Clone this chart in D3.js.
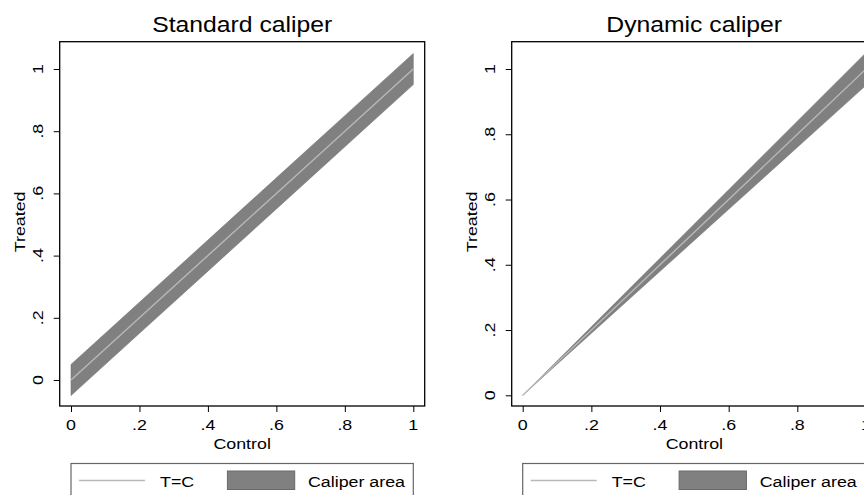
<!doctype html>
<html>
<head>
<meta charset="utf-8">
<title>Caliper areas</title>
<style>
  body { margin: 0; background: #fff; }
  text { font-family: "Liberation Sans", Arial, sans-serif; fill: #000; }
</style>
<script src="https://cdnjs.cloudflare.com/ajax/libs/d3/7.8.5/d3.min.js"></script>
</head>
<body>
<div id="chart"></div>
<script>
// data
const control = [0, 0.2, 0.4, 0.6, 0.8, 1];
const stdUpper = [0.05, 0.25, 0.45, 0.65, 0.85, 1.05];
const stdLower = [-0.05, 0.15, 0.35, 0.55, 0.75, 0.95];
const dynUpper = [0, 0.21, 0.42, 0.63, 0.84, 1.05];
const dynLower = [0, 0.19, 0.38, 0.57, 0.76, 0.95];
const treated = [0, 0.2, 0.4, 0.6, 0.8, 1];
const xTicks = [0, 0.2, 0.4, 0.6, 0.8, 1];
const yTicks = [0, 0.2, 0.4, 0.6, 0.8, 1];
const titles = ["Standard caliper", "Dynamic caliper"];
const legendLabels = ["T=C", "Caliper area"];

const W = 864, H = 495;
const stretch = 1.15; // the picture's font runs wider than Arial
const fmt = d => d === 0 ? "0" : d === 1 ? "1" : d3.format(".1f")(d).replace(/^0/, "");

const svg = d3.select("#chart").append("svg")
  .attr("width", W).attr("height", H);

// panel layout (pixels)
const panels = [
  { title: titles[0], upper: stdUpper, lower: stdLower,
    frame: { x0: 59.7, x1: 424.7, y0: 41.7, y1: 406 },
    xr: [71, 413.3], yr: [380, 69] },
  { title: titles[1], upper: dynUpper, lower: dynLower,
    frame: { x0: 511.7, x1: 876.7, y0: 41.7, y1: 406 },
    xr: [522.7, 866], yr: [395.3, 69] }
];

function label(g, x, y, txt, size, anchor) {
  return g.append("text")
    .attr("transform", `translate(${x},${y}) scale(${stretch},1)`)
    .attr("text-anchor", anchor || "middle")
    .attr("font-size", size)
    .text(txt);
}

// rotated text, stretched along its own direction
function vlabel(g, x, y, txt, size) {
  return g.append("text")
    .attr("transform", `translate(${x},${y}) rotate(-90) scale(${stretch},1)`)
    .attr("text-anchor", "middle")
    .attr("font-size", size)
    .text(txt);
}

panels.forEach(p => {
  const g = svg.append("g");
  const x = d3.scaleLinear().domain([0, 1]).range(p.xr);
  const y = d3.scaleLinear().domain([0, 1]).range(p.yr);
  const f = p.frame;

  // caliper band
  const pts = control.map((c, i) => ({ c: c, lo: p.lower[i], hi: p.upper[i], t: treated[i] }));
  g.append("path").datum(pts)
    .attr("d", d3.area().x(d => x(d.c)).y0(d => y(d.lo)).y1(d => y(d.hi)))
    .attr("fill", "#808080")
    .attr("stroke", "#777")
    .attr("stroke-width", 0.6);

  // T=C line
  g.append("path").datum(pts)
    .attr("d", d3.line().x(d => x(d.c)).y(d => y(d.t)))
    .attr("fill", "none")
    .attr("stroke", "#b8b8b8")
    .attr("stroke-width", 1.4);

  // frame
  g.append("rect")
    .attr("x", f.x0).attr("y", f.y0)
    .attr("width", f.x1 - f.x0).attr("height", f.y1 - f.y0)
    .attr("fill", "none").attr("stroke", "#000").attr("stroke-width", 1.3);

  // x axis
  const xAxis = g.append("g").attr("transform", `translate(0,${f.y1})`)
    .call(d3.axisBottom(x).tickValues(xTicks).tickSize(6).tickFormat(""));
  xAxis.select(".domain").remove();
  xAxis.selectAll("line").attr("stroke", "#000");
  xTicks.forEach(t => label(g, x(t), f.y1 + 24, fmt(t), 15.5));
  label(g, (p.xr[0] + p.xr[1]) / 2, f.y1 + 43, "Control", 15.5);

  // y axis
  const yAxis = g.append("g").attr("transform", `translate(${f.x0},0)`)
    .call(d3.axisLeft(y).tickValues(yTicks).tickSize(6).tickFormat(""));
  yAxis.select(".domain").remove();
  yAxis.selectAll("line").attr("stroke", "#000");
  yTicks.forEach(t => vlabel(g, f.x0 - 16.5, y(t), fmt(t), 15.5));
  vlabel(g, f.x0 - 35, (f.y0 + f.y1) / 2 - 2, "Treated", 15.5);

  // title
  label(g, (f.x0 + f.x1) / 2, 32, p.title, 21.5);

  // legend
  const lx = p.xr[0], lw = p.xr[1] - p.xr[0];
  const leg = g.append("g").attr("transform", `translate(${lx},463.5)`);
  leg.append("rect")
    .attr("width", lw).attr("height", 60)
    .attr("fill", "#fff").attr("stroke", "#666").attr("stroke-width", 1.2);
  leg.append("line")
    .attr("x1", 8).attr("x2", 74).attr("y1", 17).attr("y2", 17)
    .attr("stroke", "#b8b8b8").attr("stroke-width", 1.4);
  label(leg, 89, 23.5, legendLabels[0], 15.5, "start");
  leg.append("rect")
    .attr("x", 156.4).attr("y", 7.5).attr("width", 67.3).attr("height", 18.5)
    .attr("fill", "#808080").attr("stroke", "#6a6a6a").attr("stroke-width", 1);
  label(leg, 237, 23.5, legendLabels[1], 15.5, "start");
});
</script>
</body>
</html>
